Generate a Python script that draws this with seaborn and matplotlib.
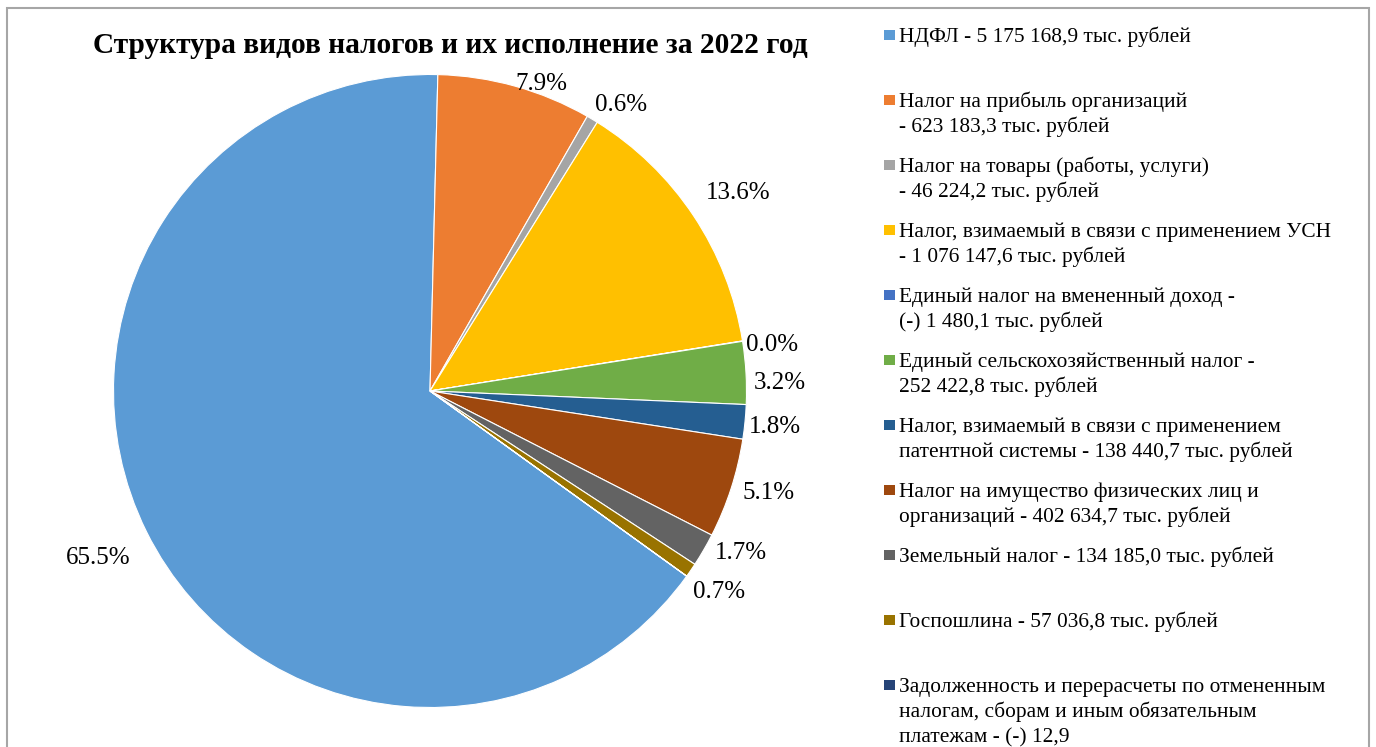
import numpy as np
import matplotlib
matplotlib.use("Agg")
import matplotlib.pyplot as plt
import seaborn as sns
from matplotlib.patches import Rectangle

sns.set_theme(style="white")
plt.rcParams['font.family'] = ['Liberation Serif', 'DejaVu Serif']
plt.rcParams['text.color'] = 'black'

# данные
title = "Структура видов налогов и их исполнение за 2022 год"
legend_labels = [
    "НДФЛ - 5 175 168,9 тыс. рублей",
    "Налог на прибыль организаций\n- 623 183,3 тыс. рублей",
    "Налог на товары (работы, услуги)\n- 46 224,2 тыс. рублей",
    "Налог, взимаемый в связи с применением УСН\n- 1 076 147,6 тыс. рублей",
    "Единый налог на вмененный доход -\n(-) 1 480,1 тыс. рублей",
    "Единый сельскохозяйственный налог -\n252 422,8 тыс. рублей",
    "Налог, взимаемый в связи с применением\nпатентной системы - 138 440,7 тыс. рублей",
    "Налог на имущество физических лиц и\nорганизаций - 402 634,7 тыс. рублей",
    "Земельный налог - 134 185,0 тыс. рублей",
    "Госпошлина - 57 036,8 тыс. рублей",
    "Задолженность и перерасчеты по отмененным\nналогам, сборам и иным обязательным\nплатежам - (-) 12,9",
]
values = [5175168.9, 623183.3, 46224.2, 1076147.6, -1480.1, 252422.8,
          138440.7, 402634.7, 134185.0, 57036.8, -12.9]
colors = ["#5B9BD5", "#ED7D31", "#A5A5A5", "#FFC000", "#4472C4", "#70AD47",
          "#255E91", "#9E480E", "#636363", "#997300", "#264478"]
show_pct = [True] * 10 + [False]

# расположение подписей (радиус в долях R, сдвиг по часовой в градусах)
label_dist = [1.174, 1.033, 1.087, 1.157, 1.092, 1.104, 1.097, 1.116, 1.109, 1.113, 1.1]
label_nudge = [-0.3, 4.3, 2.9, 0.8, 1.4, 1.9, 0.3, -1.2, -2.6, 0.3, 0]

W, H = 1376, 747
fig = plt.figure(figsize=(W / 100, H / 100), dpi=100)
ax = fig.add_axes([0, 0, 1, 1])

cx, cy, R = 430, H - 391, 316.5
wedges, texts, autotexts = ax.pie(
    np.abs(values), colors=colors, startangle=-35.8, counterclock=False,
    center=(cx, cy), radius=R, autopct='%1.1f%%', pctdistance=1.1,
    wedgeprops=dict(edgecolor='white', linewidth=0.8),
    textprops=dict(fontsize=18, color='black'))

for w, t, d, n, s in zip(wedges, autotexts, label_dist, label_nudge, show_pct):
    if not s:
        t.set_visible(False)
        continue
    ang = np.deg2rad((w.theta1 + w.theta2) / 2 - n)
    t.set_position((cx + d * R * np.cos(ang), cy + d * R * np.sin(ang)))
    t.set_ha('center')
    t.set_va('center')

ax.set_xlim(0, W)
ax.set_ylim(0, H)
ax.set_aspect('equal')
ax.axis('off')

# заголовок
ax.text(450, H - 53, title, ha='center', va='baseline', fontsize=21.2,
        fontweight='bold', color='black')

# легенда
for k, (lab, col) in enumerate(zip(legend_labels, colors)):
    top = 30 + 65 * k
    ax.add_patch(Rectangle((884, H - top - 10), 11, 10, color=col, lw=0))
    for j, line in enumerate(lab.split("\n")):
        ax.text(899, H - (42 + 65 * k + 25 * j), line, ha='left', va='baseline',
                fontsize=15.4, color='black')

# рамка
ax.add_patch(Rectangle((7, -10), 1362, H - 8 + 10, fill=False, edgecolor='#A6A6A6',
                       lw=1.5, clip_on=False))

fig.savefig("out.png", dpi=100)
